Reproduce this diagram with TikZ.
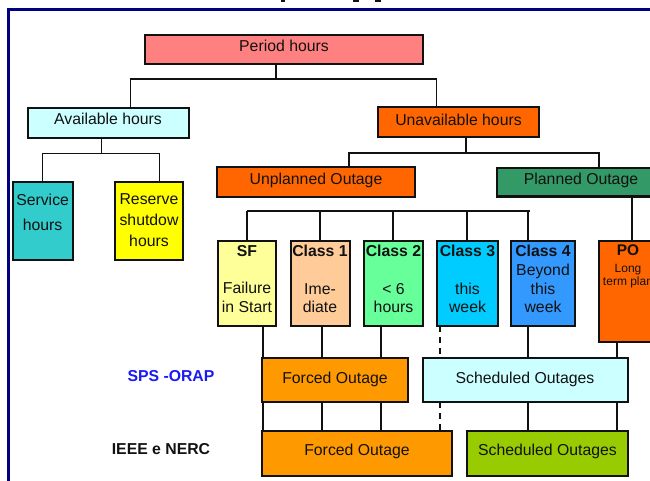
\documentclass[tikz,border=0pt]{standalone}
\usepackage{fontspec}
\setmainfont{Liberation Sans}
\usetikzlibrary{fit}
\definecolor{cPeriod}{HTML}{FF8080}
\definecolor{cLightCyan}{HTML}{CCFFFF}
\definecolor{cOrange}{HTML}{FF6600}
\definecolor{cTeal}{HTML}{33CCCC}
\definecolor{cYellow}{HTML}{FFFF00}
\definecolor{cSea}{HTML}{339966}
\definecolor{cPaleYellow}{HTML}{FFFF99}
\definecolor{cTan}{HTML}{FFCC99}
\definecolor{cMint}{HTML}{66FF99}
\definecolor{cSky}{HTML}{00CCFF}
\definecolor{cBlue}{HTML}{3399FF}
\definecolor{cAmber}{HTML}{FF9900}
\definecolor{cLime}{HTML}{99CC00}
\definecolor{cNavy}{HTML}{000080}
\definecolor{cLabelBlue}{HTML}{1A1AF5}
\definecolor{cInk}{HTML}{111111}
\tikzset{
  box/.style={draw=cInk, line width=2pt, inner sep=0pt, outer sep=0pt},
  conn/.style={draw=cInk, line width=1.5pt},
  dconn/.style={conn, dash pattern=on 6pt off 5pt},
  lbl/.style={inner sep=0pt, outer sep=0pt, text=cInk, align=center, font=\fontsize{15.8}{18.7}\selectfont},
  blbl/.style={lbl, font=\bfseries\fontsize{15.8}{18.7}\selectfont},
}
\begin{document}
\begin{tikzpicture}[x=1pt,y=-1pt]
\useasboundingbox (0,0) rectangle (650,481);
\clip (0,0) rectangle (650,481);
\fill[white] (0,0) rectangle (650,481);
% frame and cut-off title fragments
\draw[cNavy, line width=3pt] (8.2,481) -- (8.2,9.4) -- (650,9.4);
\fill[cInk] (281,0) rectangle (285,2.3);
\fill[cInk] (353,0) rectangle (359,2.3);
\fill[cInk] (374.5,0) rectangle (380.5,2.3);
% boxes
\node[box, fill=cPeriod, fit={(145,35) (423,64)}] (period) {};
\node[box, fill=cLightCyan, fit={(27.5,108) (188.5,138)}] (avail) {};
\node[box, fill=cOrange, fit={(378,107.5) (538.5,137.5)}] (unavail) {};
\node[box, fill=cTeal, fit={(12.5,182) (72.7,259.5)}] (service) {};
\node[box, fill=cYellow, fit={(115,182) (183,259.5)}] (reserve) {};
\node[box, fill=cOrange, fit={(217,167) (414.5,197)}] (unplanned) {};
\node[box, fill=cSea, fit={(497,168) (665,196.5)}] (planned) {};
\node[box, fill=cPaleYellow, fit={(217.7,240.5) (276,326)}] (sf) {};
\node[box, fill=cTan, fit={(290.7,240.5) (350,326)}] (c1) {};
\node[box, fill=cMint, fit={(364,240.5) (423,326)}] (c2) {};
\node[box, fill=cSky, fit={(437,240.5) (498,326)}] (c3) {};
\node[box, fill=cBlue, fit={(511,240.5) (575,326)}] (c4) {};
\node[box, fill=cOrange, fit={(599,241) (657,342)}] (po) {};
\node[box, fill=cAmber, fit={(262,358) (408,402)}] (forcedA) {};
\node[box, fill=cLightCyan, fit={(423,358) (628,402)}] (schedA) {};
\node[box, fill=cAmber, fit={(262,431) (452,476)}] (forcedB) {};
\node[box, fill=cLime, fit={(467,431) (628,476)}] (schedB) {};
% texts
\node[lbl, anchor=base] (tperiod) at (284,51.4) {Period hours};
\node[lbl, anchor=base] (tavail) at (108,125) {Available hours};
\node[lbl, anchor=base] (tunavail) at (458.5,125.5) {Unavailable hours};
\node[lbl, anchor=base] (tunpl) at (316,184.4) {Unplanned Outage};
\node[lbl, anchor=base] (tpl) at (581,185) {Planned Outage};
\node[lbl, anchor=north, font=\fontsize{15.8}{25.3}\selectfont] (tservice) at (42.6,194.2) {Service\\hours};
\node[lbl, anchor=north, font=\fontsize{15.8}{21.3}\selectfont] (treserve) at (149,193.5) {Reserve\\shutdow\\hours};
\node[lbl, anchor=north] (tsf) at (247,245.2) {\textbf{SF}\\~\\Failure\\in Start};
\node[lbl, anchor=north] (tc1) at (320,245.2) {\textbf{Class 1}\\~\\Ime-\\diate};
\node[lbl, anchor=north] (tc2) at (393.5,245.2) {\textbf{Class 2}\\~\\< 6\\hours};
\node[lbl, anchor=north] (tc3) at (467.5,245.2) {\textbf{Class 3}\\~\\this\\week};
\node[lbl, anchor=north] (tc4) at (543,245.2) {\textbf{Class 4}\\Beyond\\this\\week};
\node[blbl, anchor=base, font=\bfseries\fontsize{15.4}{18}\selectfont] (tpo) at (628,255.7) {PO};
\node[lbl, anchor=north, font=\fontsize{12}{13.3}\selectfont] (tpo2) at (628,264) {Long\\term plan};
\node[blbl, anchor=base, text=cLabelBlue] (tsps) at (171,381) {SPS -ORAP};
\node[blbl, anchor=base] (tieee) at (161,454.3) {IEEE e NERC};
\node[lbl, anchor=base] (tfa) at (335,383.3) {Forced Outage};
\node[lbl, anchor=base] (tsa) at (525,383.3) {Scheduled Outages};
\node[lbl, anchor=base] (tfb) at (357,455) {Forced Outage};
\node[lbl, anchor=base] (tsb) at (547.5,455) {Scheduled Outages};
% connector junctions
\coordinate (j0) at (276,79);
\coordinate (jL) at (130.5,79);
\coordinate (jR) at (436.5,79);
\coordinate (k0) at (101.3,153.3);
\coordinate (kL) at (42.5,153.3);
\coordinate (kR) at (159.3,153.3);
\coordinate (m0) at (466,153);
\coordinate (mL) at (349,153);
\coordinate (mR) at (599,153);
\coordinate (d1) at (247,211);
\coordinate (d2) at (320,211);
\coordinate (d3) at (393,211);
\coordinate (d4) at (467,211);
\coordinate (d5) at (528,211);
\coordinate (dE) at (530,211);
\coordinate (p0) at (632,0);
\coordinate (xa) at (263,0);
\coordinate (xb) at (322,0);
\coordinate (xc) at (381,0);
\coordinate (xd) at (440,0);
\coordinate (xe) at (528,0);
\coordinate (xf) at (617,0);
% connectors
\draw[conn] (period.south -| j0) -- (j0);
\draw[conn] (avail.north -| jL) |- (jR) -- (unavail.north -| jR);
\draw[conn] (avail.south -| k0) -- (k0);
\draw[conn] (service.north -| kL) |- (kR) -- (reserve.north -| kR);
\draw[conn] (unavail.south -| m0) -- (m0);
\draw[conn] (unplanned.north -| mL) |- (mR) -- (planned.north -| mR);
\draw[conn] (d1) -- (dE);
\draw[conn] (d1) -- (sf.north -| d1);
\draw[conn] (d2) -- (c1.north -| d2);
\draw[conn] (d3) -- (c2.north -| d3);
\draw[conn] (d4) -- (c3.north -| d4);
\draw[conn] (d5) -- (c4.north -| d5);
\draw[conn] (planned.south -| p0) -- (po.north -| p0);
\draw[conn] (sf.south -| xa) -- (forcedA.north -| xa);
\draw[conn] (forcedA.south -| xa) -- (forcedB.north -| xa);
\draw[conn] (c1.south -| xb) -- (forcedA.north -| xb);
\draw[conn] (forcedA.south -| xb) -- (forcedB.north -| xb);
\draw[conn] (c2.south -| xc) -- (forcedA.north -| xc);
\draw[conn] (forcedA.south -| xc) -- (forcedB.north -| xc);
\draw[dconn] (c3.south -| xd) -- (schedA.north -| xd);
\draw[dconn] (schedA.south -| xd) -- (forcedB.north -| xd);
\draw[conn] (c4.south -| xe) -- (schedA.north -| xe);
\draw[conn] (schedA.south -| xe) -- (schedB.north -| xe);
\draw[conn] (po.south -| xf) -- (schedA.north -| xf);
\draw[conn] (schedA.south -| xf) -- (schedB.north -| xf);
\end{tikzpicture}
\end{document}
